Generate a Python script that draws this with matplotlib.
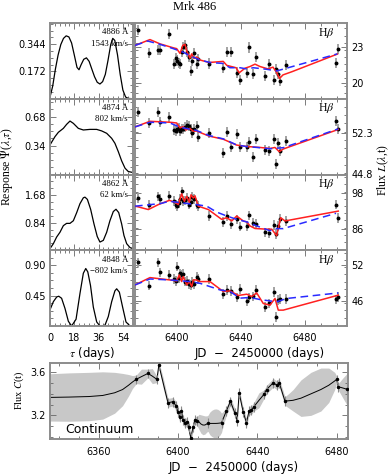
import matplotlib
matplotlib.use("Agg")
import matplotlib.pyplot as plt
from matplotlib.ticker import MultipleLocator, FixedLocator

plt.rcParams['font.family'] = ['DejaVu Sans']
plt.rcParams['mathtext.fontset'] = 'stix'

# ---------------- data ----------------
title = "Mrk 486"
wave_labels = ["4886 Å", "4874 Å", "4862 Å", "4848 Å"]
vel_labels = ["1543 km/s", "802 km/s", "62 km/s", "\u2212802 km/s"]

# transfer functions (tau in days, response)
tau1 = [0, 2, 4, 6, 8, 10, 12, 14, 16, 18, 20, 21.5, 23, 25, 27, 29, 31, 33, 35, 37, 39, 41, 43, 45, 46.5, 48, 50, 52, 54, 56, 58, 61.5]
psi1 = [0.01, 0.08, 0.187, 0.276, 0.342, 0.381, 0.397, 0.39, 0.352, 0.276, 0.198, 0.183, 0.214, 0.249, 0.258, 0.236, 0.187, 0.139, 0.104, 0.093, 0.108, 0.154, 0.243, 0.342, 0.381, 0.368, 0.278, 0.154, 0.055, 0.011, 0.002, 0.0]
tau2 = [0, 3.7, 6.2, 9.9, 12.3, 14.8, 17.3, 21, 24.7, 29.6, 34.6, 38.3, 42, 45.7, 48.1, 50.6, 53.1, 55.6, 58, 61.5]
psi2 = [0.348, 0.445, 0.496, 0.542, 0.589, 0.628, 0.601, 0.542, 0.523, 0.53, 0.53, 0.512, 0.484, 0.425, 0.367, 0.269, 0.16, 0.074, 0.035, 0.023]
tau3 = [0.5, 2.5, 4.9, 7.4, 9.9, 12.3, 14.8, 17.3, 19.8, 22.2, 24.7, 25.9, 27.7, 30.1, 32.6, 35, 37, 39.5, 42, 44.4, 46.9, 48.9, 50.9, 53.1, 54.8, 56.8, 59.3, 61.5]
psi3 = [0.08, 0.2, 0.4, 0.547, 0.747, 0.816, 0.816, 0.896, 1.145, 1.414, 1.593, 1.613, 1.544, 1.245, 0.797, 0.418, 0.249, 0.3, 0.547, 0.896, 1.175, 1.245, 1.145, 0.797, 0.448, 0.2, 0.08, 0.05]
tau4 = [0, 2.5, 5, 6.5, 8.6, 11.1, 13.6, 16, 19.3, 22.2, 24.7, 26.5, 28, 30, 32.1, 34.6, 37, 40.7, 43.2, 45.7, 48.1, 49.4, 51.4, 53.8, 56.3, 59.3, 61.5]
psi4 = [0.24, 0.36, 0.43, 0.44, 0.41, 0.26, 0.07, 0.0, 0.1, 0.48, 0.78, 0.85, 0.8, 0.6, 0.28, 0.06, 0.0, 0.01, 0.14, 0.36, 0.52, 0.55, 0.5, 0.28, 0.06, 0.0, 0.0]
psi_ticks = [[0.172, 0.344], [0.34, 0.68], [0.84, 1.68], [0.45, 0.90]]
psi_ticklabels = [["0.172", "0.344"], ["0.34", "0.68"], ["0.84", "1.68"], ["0.45", "0.90"]]
psi_ylims = [(0, 0.478), (0, 0.89), (0, 2.3), (0, 1.12)]

# H-beta light curves (JD - 2450000)
hb_jd = [6375.8, 6382.5, 6388.3, 6389.4, 6395.2, 6398.3, 6399.4, 6400.2, 6401.1, 6401.9,
         6402.9, 6403.9, 6405.0, 6406.4, 6407.7, 6408.6, 6409.6, 6410.8, 6412.3, 6413.3,
         6420.0, 6428.9, 6431.4, 6433.75, 6437.3, 6439.4, 6443.9, 6445.2, 6447.3, 6449.4,
         6455.0, 6457.5, 6460.8, 6461.9, 6462.9, 6464.4, 6467.9, 6499.4, 6500.6]
hb1 = [24.46, 22.51, 22.8, 22.8, 24.1, 21.6, 22.1, 21.9, 21.7, 21.6,
       22.6, 23.0, 23.2, 22.6, 22.2, 21.0, 21.9, 22.5, 21.6, 22.0,
       21.65, 21.3, 22.6, 22.6, 20.9, 20.3, 20.9, 23.0, 20.8, 22.2,
       20.6, 21.6, 20.3, 21.2, 20.75, 20.2, 21.5, 21.7, 22.9]
hb2 = [55.97, 54.07, 55.97, 54.2, 55.14, 52.78, 52.6, 53.0, 53.19, 52.7,
       52.9, 52.9, 53.3, 53.79, 53.49, 53.0, 52.3, 52.9, 53.61, 51.59,
       52.19, 48.65, 52.42, 49.64, 52.02, 49.64, 49.64, 50.65, 47.87, 51.13,
       49.18, 49.06, 51.24, 46.7, 50.53, 49.06, 50.83, 54.37, 52.9]
hb3 = [96.27, 94.08, 96.82, 95.94, 97.02, 95.19, 94.08, 93.56, 94.5, 96.0,
       98.46, 95.19, 95.5, 96.27, 94.08, 94.86, 96.6, 95.94, 94.08, 93.56,
       90.29, 88.33, 90.29, 87.54, 89.18, 86.79, 87.0, 90.48, 88.1, 87.54,
       84.83, 84.6, 87.22, 84.27, 87.0, 89.4, 88.65, 94.08, 89.73]
hb4 = [52.38, 48.53, 52.38, 50.73, 50.28, 49.62, 49.29, 51.67, 49.74, 50.56,
       50.28, 50.4, 49.19, 49.29, 48.74, 48.63, 49.19, 48.74, 50.02, 49.6,
       49.62, 47.09, 47.8, 47.64, 46.55, 47.97, 45.88, 46.55, 46.71, 47.8,
       45.0, 45.55, 47.47, 43.34, 46.1, 46.3, 46.27, 46.21, 46.64]
hb_err = [0.43, 0.9, 1.6, 0.8]
hb_yticks = [[20, 23], [44.8, 52.3], [86, 98], [46, 52]]
hb_yticklabels = [["20", "23"], ["44.8", "52.3"], ["86", "98"], ["46", "52"]]
hb_ylims = [(18.7, 25.05), (44.75, 58.45), (78.9, 104.1), (41.8, 54.4)]

# model light curves: red (solid) and blue (dashed)
red1_jd = [6373.75, 6383.1, 6389.4, 6397.7, 6399.8, 6401.9, 6403.6, 6405.0, 6406.1, 6408.1, 6409.2, 6410.6, 6412.3, 6414.4, 6420.0, 6428.9, 6431.1, 6436.9, 6438.9, 6442.5, 6445.6, 6448.75, 6451.9, 6456.9, 6460.0, 6462.3, 6464.1, 6466.25, 6471.9, 6500.3]
red1 = [23.17, 23.66, 23.3, 22.97, 22.9, 22.5, 23.17, 23.26, 22.7, 22.1, 22.46, 22.1, 22.2, 21.95, 21.74, 21.83, 21.5, 21.3, 20.88, 21.26, 21.4, 21.6, 21.4, 21.2, 21.35, 20.9, 20.4, 20.7, 20.97, 22.45]
blue1_jd = [6373.75, 6381.7, 6389.4, 6397.7, 6403.9, 6408.1, 6414.4, 6420.6, 6428.75, 6433.1, 6439.4, 6443.6, 6447.7, 6456.1, 6462.3, 6500.2]
blue1 = [23.17, 23.54, 23.26, 22.9, 22.6, 22.3, 21.95, 21.74, 21.66, 21.3, 21.3, 21.2, 21.3, 21.17, 21.03, 22.46]
red2_jd = [6373.75, 6383.1, 6395.6, 6399.8, 6401.9, 6403.75, 6405.6, 6408.1, 6410.0, 6412.3, 6420.0, 6428.9, 6437.3, 6443.6, 6451.9, 6458.1, 6461.25, 6463.9, 6466.4, 6500.8]
red2 = [53.36, 54.37, 54.2, 54.07, 53.2, 53.4, 52.8, 53.1, 52.6, 52.6, 51.7, 51.13, 50.07, 49.82, 49.64, 49.46, 49.64, 48.88, 49.36, 52.9]
blue2_jd = [6373.75, 6383.1, 6395.6, 6401.9, 6412.3, 6420.0, 6428.9, 6437.3, 6443.6, 6451.9, 6458.1, 6466.4, 6500.8]
blue2 = [53.36, 54.2, 54.07, 53.3, 52.7, 51.8, 51.2, 50.1, 49.8, 49.6, 49.4, 49.6, 53.0]
red3_jd = [6373.75, 6375.8, 6382.1, 6388.3, 6395.2, 6398.75, 6400.8, 6402.9, 6404.6, 6406.1, 6407.7, 6408.75, 6410.2, 6411.25, 6413.3, 6419.6, 6427.9, 6431.1, 6434.2, 6437.3, 6441.4, 6443.6, 6445.6, 6448.75, 6456.1, 6459.2, 6462.3, 6464.8, 6467.5, 6500.8]
red3 = [93.56, 93.33, 92.44, 94.08, 95.5, 94.86, 94.08, 97.67, 95.19, 96.82, 94.86, 97.35, 96.27, 97.02, 93.56, 92.44, 89.18, 89.73, 88.65, 90.29, 88.65, 88.33, 87.0, 86.14, 85.91, 85.91, 83.75, 89.73, 88.65, 91.92]
blue3_jd = [6373.75, 6383.1, 6389.4, 6395.2, 6403.9, 6412.3, 6418.6, 6424.8, 6431.1, 6437.3, 6443.6, 6449.8, 6458.1, 6461.25, 6466.4, 6499.4]
blue3 = [93.56, 94.08, 94.4, 95.19, 94.6, 94.08, 93.56, 91.6, 90.29, 89.18, 88.33, 87.0, 85.4, 86.1, 86.1, 91.2]
red4_jd = [6373.75, 6383.1, 6395.6, 6399.8, 6401.4, 6402.9, 6403.9, 6406.1, 6407.7, 6409.2, 6410.2, 6412.3, 6414.4, 6420.6, 6428.9, 6433.1, 6438.3, 6443.6, 6446.7, 6449.8, 6453.9, 6458.1, 6461.25, 6463.3, 6466.4, 6500.8]
red4 = [48.63, 49.85, 49.46, 49.3, 50.28, 49.19, 50.02, 48.63, 49.2, 48.36, 49.46, 49.46, 49.19, 49.19, 47.54, 47.64, 46.88, 47.09, 46.71, 47.3, 45.55, 45.27, 46.38, 44.44, 44.44, 46.93]
blue4_jd = [6373.75, 6383.1, 6395.6, 6408.1, 6414.4, 6426.9, 6433.1, 6439.4, 6445.6, 6451.9, 6462.3, 6468.6, 6500.8]
blue4 = [48.63, 49.62, 49.46, 49.19, 48.9, 47.8, 47.54, 46.43, 46.55, 46.2, 45.82, 46.38, 47.3]

# continuum
cont_jd = [6378.9, 6384.8, 6389.3, 6390.3, 6394.9, 6397.4, 6399.1, 6399.9, 6400.8, 6401.7,
           6402.5, 6403.4, 6404.5, 6405.3, 6406.4, 6407.5, 6408.4, 6409.5, 6415.1, 6421.9,
           6424.4, 6426.4, 6428.6, 6429.8, 6430.8, 6432.8, 6434.5, 6435.8, 6437.0, 6438.2,
           6443.3, 6444.6, 6448.0, 6449.7, 6451.0, 6453.9, 6480.0, 6480.8, 6485.1]
cont = [3.535, 3.59, 3.535, 3.668, 3.317, 3.327, 3.286, 3.233, 3.181, 3.243,
        3.156, 3.126, 3.141, 3.088, 2.99, 3.088, 3.156, 3.147, 3.126, 3.131,
        3.243, 3.33, 3.224, 3.15, 3.41, 3.233, 3.131, 3.243, 3.25, 3.28,
        3.395, 3.44, 3.503, 3.482, 3.503, 3.333, 3.535, 3.466, 3.442]
cont_err = 0.045
cmod_jd = [6335.4, 6345, 6355, 6362, 6368, 6372, 6375, 6377, 6378.9, 6381.5, 6384.8, 6387, 6389.3, 6390.3,
           6392.5, 6394.9, 6397.4, 6399.1, 6399.9, 6400.8, 6401.7, 6402.5, 6403.4, 6404.5, 6405.3, 6406.4,
           6407.5, 6408.4, 6409.5, 6410.5, 6411.5, 6412.5, 6413.5, 6414.5, 6415.1, 6416, 6417, 6418,
           6419, 6420, 6421, 6421.9, 6423, 6424.4, 6426.4,
           6428.6, 6429.8, 6430.8, 6432.8, 6434.5, 6435.8, 6437, 6438.2, 6440.8, 6443.3, 6444.6, 6448,
           6449.7, 6451, 6453.9, 6456, 6458, 6462, 6467, 6472, 6476, 6479, 6480, 6480.8, 6483, 6485.7]
cmod = [3.367, 3.37, 3.375, 3.385, 3.41, 3.44, 3.48, 3.51, 3.535, 3.56, 3.59, 3.565, 3.535, 3.668,
        3.50, 3.317, 3.327, 3.286, 3.233, 3.181, 3.243, 3.156, 3.126, 3.141, 3.088, 2.99,
        3.088, 3.156, 3.147, 3.14, 3.12, 3.11, 3.11, 3.12, 3.126, 3.125, 3.125, 3.125,
        3.125, 3.126, 3.128, 3.131, 3.18, 3.243, 3.33,
        3.224, 3.15, 3.41, 3.233, 3.131, 3.243, 3.25, 3.28, 3.34, 3.395, 3.44, 3.503,
        3.482, 3.503, 3.333, 3.336, 3.34, 3.36, 3.40, 3.44, 3.48, 3.52, 3.535, 3.466, 3.455, 3.44]
cmod_sig = [0.22, 0.225, 0.225, 0.22, 0.19, 0.15, 0.10, 0.06, 0.04, 0.07, 0.04, 0.07, 0.03, 0.03,
            0.05, 0.04, 0.04, 0.04, 0.04, 0.04, 0.04, 0.04, 0.04, 0.04, 0.04, 0.04,
            0.04, 0.04, 0.04, 0.07, 0.085, 0.09, 0.085, 0.075, 0.075, 0.105, 0.122, 0.132,
            0.135, 0.13, 0.115, 0.09, 0.06, 0.04, 0.04,
            0.04, 0.04, 0.04, 0.04, 0.04, 0.04, 0.04, 0.04, 0.07, 0.04, 0.04, 0.04,
            0.04, 0.04, 0.04, 0.07, 0.10, 0.17, 0.20, 0.20, 0.16, 0.08, 0.03, 0.03, 0.09, 0.16]

# ---------------- figure ----------------
W, H = 390, 476
fig = plt.figure(figsize=(W / 100, H / 100), dpi=100)


def add_ax(x0, y0, x1, y1):
    return fig.add_axes([x0 / W, 1 - y1 / H, (x1 - x0) / W, (y1 - y0) / H])


def ftext(x, y, s, **kw):
    fig.text(x / W, 1 - y / H, s, **kw)


FRAME = '#8c8c8c'


def style(ax):
    for s in ax.spines.values():
        s.set_color(FRAME)
        s.set_linewidth(1.4)
    ax.tick_params(which='both', direction='in', top=True, right=True, left=True, bottom=True,
                   color='#666666', width=0.6, labelsize=7, pad=3)
    ax.tick_params(which='major', length=4)
    ax.tick_params(which='minor', length=2)


rows = [(23, 98.75), (98.75, 174.5), (174.5, 250.25), (250.25, 326)]
taus = [tau1, tau2, tau3, tau4]
psis = [psi1, psi2, psi3, psi4]
hbs = [hb1, hb2, hb3, hb4]
reds = [(red1_jd, red1), (red2_jd, red2), (red3_jd, red3), (red4_jd, red4)]
blues = [(blue1_jd, blue1), (blue2_jd, blue2), (blue3_jd, blue3), (blue4_jd, blue4)]
serif = 'Liberation Serif'

for i, (top, bot) in enumerate(rows):
    # transfer function panel
    axl = add_ax(50, top, 133, bot)
    style(axl)
    axl.plot(taus[i], psis[i], color='black', lw=0.9)
    axl.set_xlim(0, 61.5)
    axl.set_ylim(*psi_ylims[i])
    axl.xaxis.set_major_locator(FixedLocator([0, 18, 36, 54]))
    axl.xaxis.set_minor_locator(MultipleLocator(3.6))
    axl.yaxis.set_major_locator(FixedLocator(psi_ticks[i]))
    axl.yaxis.set_minor_locator(MultipleLocator(psi_ticks[i][0] / 4))
    axl.set_yticklabels(psi_ticklabels[i])
    if i < 3:
        axl.tick_params(labelbottom=False)
    else:
        axl.set_xticklabels(["0", "18", "36", "54"])
        axl.tick_params(axis='x', pad=5)
    ftext(128, top + 9.5, wave_labels[i], family=serif, fontsize=6.3, ha='right', va='center')
    ftext(128, top + 20.5, vel_labels[i], family=serif, fontsize=6.3, ha='right', va='center')

    # light-curve panel
    axr = add_ax(135, top, 347, bot)
    style(axr)
    axr.errorbar(hb_jd, hbs[i], yerr=hb_err[i], fmt='o', ms=1.8, color='black',
                 ecolor='#a2a2a2', elinewidth=1.4, capsize=0, zorder=3)
    axr.plot(*reds[i], color='#ff2020', lw=1.1, zorder=4)
    axr.plot(*blues[i], color='#2a2aff', lw=1.1, ls=(0, (5, 3)), zorder=4)
    axr.set_xlim(6373.75, 6506.25)
    axr.set_ylim(*hb_ylims[i])
    axr.xaxis.set_major_locator(FixedLocator([6400, 6440, 6480]))
    axr.xaxis.set_minor_locator(MultipleLocator(10))
    axr.yaxis.set_major_locator(FixedLocator(hb_yticks[i]))
    step = (hb_yticks[i][1] - hb_yticks[i][0]) / 5
    axr.yaxis.set_minor_locator(MultipleLocator(step))
    axr.set_yticklabels(hb_yticklabels[i])
    axr.tick_params(labelleft=False, labelright=True)
    if i < 3:
        axr.tick_params(labelbottom=False)
    else:
        axr.set_xticklabels(["6400", "6440", "6480"])
        axr.tick_params(axis='x', pad=5)
    ftext(335, top + 9.5, r"H$\beta$", family=serif, fontsize=8.5, ha='right', va='center')

# bottom continuum panel
axc = add_ax(50, 363, 348, 439)
style(axc)
lo = [m - s for m, s in zip(cmod, cmod_sig)]
hi = [m + s for m, s in zip(cmod, cmod_sig)]
axc.fill_between(cmod_jd, lo, hi, color='#c8c8c8', lw=0, zorder=1)
axc.plot(cmod_jd, cmod, color='black', lw=0.7, zorder=2)
axc.errorbar(cont_jd, cont, yerr=cont_err, fmt='o', ms=1.5, color='black',
             ecolor='#8a8a8a', elinewidth=0.8, capsize=0, zorder=3)
axc.set_xlim(6335.4, 6485.7)
axc.set_ylim(2.98, 3.687)
axc.xaxis.set_major_locator(FixedLocator([6360, 6400, 6440, 6480]))
axc.xaxis.set_minor_locator(MultipleLocator(10))
axc.yaxis.set_major_locator(FixedLocator([3.2, 3.6]))
axc.yaxis.set_minor_locator(MultipleLocator(0.1))
axc.set_xticklabels(["6360", "6400", "6440", "6480"])
axc.set_yticklabels(["3.2", "3.6"])
axc.tick_params(axis='x', pad=6)
axc.text(0.05, 0.12, "Continuum", transform=axc.transAxes, fontsize=9, ha='left', va='center')

# labels
ftext(195, 7, title, family=serif, fontsize=9, ha='center', va='center')
ftext(7, 166, r"Response $\Psi$($\lambda$,$\tau$)", family=serif, fontsize=8.5,
      rotation=90, ha='center', va='center')
ftext(383, 170, r"Flux $L$($\lambda$,t)", family=serif, fontsize=8.5,
      rotation=90, ha='center', va='center')
ftext(19, 390, r"Flux $C$(t)", family=serif, fontsize=7.5, rotation=90, ha='center', va='center')
ftext(92, 353, r"$\tau$ (days)", fontsize=8.5, ha='center', va='center')
ftext(260, 353, "JD  \u2212  2450000 (days)", fontsize=8.5, ha='center', va='center')
ftext(234, 467, "JD  \u2212  2450000 (days)", fontsize=8.5, ha='center', va='center')

fig.savefig("out.png", dpi=100)
